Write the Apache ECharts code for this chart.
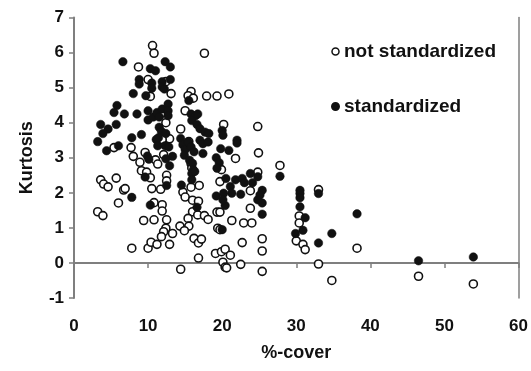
<!DOCTYPE html>
<html><head><meta charset="utf-8">
<script src="https://cdn.jsdelivr.net/npm/echarts@6/dist/echarts.min.js"></script>
<style>html,body{margin:0;padding:0;background:#fff}#c{width:531px;height:371px}</style>
</head><body><div id="c"></div>
<script>
var seriesNames = ["not standardized", "standardized"];
var xTicks = [0, 10, 20, 30, 40, 50, 60];
var yTicks = [-1, 0, 1, 2, 3, 4, 5, 6, 7];

var notStdX = [10.6,10.8,17.6,8.7,10.0,12.4,13.1,10.3,15.8,15.4,16.1,17.9,19.3,20.9,11.7,12.4,15.0,20.2,24.8,14.4,12.9,11.9,15.5,7.7,5.4,8.0,9.6,
11.0,11.3,8.9,9.1,9.8,10.3,12.1,12.5,12.5,15.8,15.9,21.8,24.9,27.8,24.8,19.9,19.7,3.6,4.0,4.6,5.7,6.7,6.9,10.5,11.7,14.7,15.0,15.8,16.9,23.8,
6.0,3.2,3.9,10.8,11.9,11.9,16.0,16.8,16.0,16.7,17.6,18.1,19.3,19.7,23.8,15.4,9.4,10.8,12.5,21.3,22.9,24.0,12.4,12.1,13.3,11.8,14.3,15.5,14.9,
19.4,19.7,7.8,10.0,10.4,11.2,12.9,16.2,16.8,17.2,22.7,25.4,25.4,19.1,19.9,20.4,21.1,16.8,20.1,20.4,20.6,22.5,14.4,25.4,30.0,30.4,30.4,30.9,
31.2,33.0,33.0,34.8,38.2,46.5,53.9];
var notStdY = [6.2,5.98,5.98,5.59,5.23,5.17,4.83,4.75,4.89,4.77,4.7,4.76,4.76,4.82,4.25,4.0,4.34,3.95,3.89,3.82,3.54,3.52,3.46,3.29,3.29,3.04,3.15,
2.94,2.82,2.87,2.63,2.59,2.43,3.09,2.5,2.34,2.83,2.71,2.98,3.14,2.78,2.59,2.66,2.32,2.37,2.25,2.17,2.42,2.08,2.12,2.12,2.1,2.02,1.88,2.16,2.21,2.06,
1.71,1.46,1.35,1.72,1.66,1.48,1.79,1.76,1.46,1.37,1.35,1.24,1.45,1.45,1.56,1.27,1.21,1.23,1.23,1.21,1.14,1.14,0.99,0.89,0.84,0.75,1.05,1.05,0.92,
0.99,0.95,0.42,0.42,0.59,0.53,0.53,0.7,0.57,0.68,0.58,0.69,0.34,0.27,0.32,0.39,0.22,0.14,0.02,-0.12,-0.14,-0.04,-0.18,-0.24,0.63,1.34,1.14,0.53,
0.38,2.09,-0.03,-0.5,0.42,-0.38,-0.6];

var stdX = [6.6,12.3,13.0,10.3,11.0,8.8,13.0,8.8,10.5,11.9,11.9,12.2,10.5,8.0,9.7,5.8,5.4,6.8,8.5,3.6,4.6,3.9,5.7,10.0,10.0,10.7,11.2,11.5,11.9,
12.7,12.7,12.7,11.5,11.8,12.4,11.4,11.1,11.3,12.3,12.8,13.3,12.4,12.9,12.5,3.2,4.4,6.0,7.8,9.1,9.9,10.1,9.6,7.8,10.3,14.4,14.7,15.0,15.4,15.8,
16.2,15.5,15.8,16.4,15.9,16.7,16.6,17.0,17.7,18.2,17.0,17.4,18.1,17.4,14.9,15.6,16.0,16.1,15.9,16.3,15.9,14.5,16.6,20.0,20.1,19.8,20.9,19.2,
19.6,19.3,20.5,22.0,22.0,21.8,22.7,23.0,23.8,24.1,24.8,19.2,20.2,21.1,21.3,20.4,22.5,20.1,20.0,24.8,25.4,25.1,25.4,25.4,27.8,30.5,30.5,30.5,
30.5,31.2,30.9,29.9,33.0,33.0,34.8,38.2,46.5,53.9];
var stdY = [5.74,5.74,5.59,5.54,5.48,5.23,5.23,5.1,5.13,5.17,5.02,4.96,4.98,4.83,4.77,4.49,4.29,4.25,4.25,3.95,3.82,3.69,3.95,4.34,4.08,4.16,4.29,4.16,4.39,
4.53,4.34,4.2,3.87,3.75,3.69,3.57,3.52,3.34,3.34,3.31,3.04,2.97,2.77,2.21,3.46,3.2,3.34,3.57,3.66,3.05,2.96,2.45,1.87,1.65,3.55,3.37,3.23,3.45,3.31,
3.17,4.63,4.25,4.2,4.06,4.25,3.95,3.83,3.73,3.69,3.5,3.4,3.45,3.12,3.07,2.93,2.84,2.65,2.55,2.61,2.37,2.22,1.59,3.78,3.64,3.26,3.21,3.0,
2.86,2.7,2.41,3.5,3.42,2.37,2.41,2.29,2.55,2.29,2.46,1.91,1.99,2.18,1.99,1.64,1.96,1.8,0.95,1.8,2.07,1.94,1.71,1.39,2.47,2.07,1.98,1.86,
1.6,1.29,0.93,0.84,1.98,0.57,0.84,1.4,0.06,0.17];

function pairs(xs, ys){ return xs.map(function(x,i){ return [x, ys[i]]; }); }

var FONT = "'Liberation Sans', Arial, sans-serif";
var axisCol = '#7f7f7f';
var chart = echarts.init(document.getElementById('c'), null, {renderer:'canvas'});
chart.setOption({
  animation: false,
  backgroundColor: '#fff',
  grid: {left: 74, right: 12, top: 17.5, bottom: 73, containLabel: false},
  legend: {
    orient: 'vertical', left: 326, top: 37, itemGap: 36, itemWidth: 7, itemHeight: 7,
    textStyle: {fontFamily: FONT, fontWeight: 'bold', fontSize: 19, color: '#111'},
    data: [
      {name: seriesNames[0], icon: 'circle', itemStyle: {color: '#fff', borderColor: '#111', borderWidth: 1.5}},
      {name: seriesNames[1], icon: 'circle', itemStyle: {color: '#111'}}
    ]
  },
  xAxis: {
    type: 'value', min: xTicks[0], max: xTicks[xTicks.length-1], interval: 10,
    name: '%-cover', nameLocation: 'middle', nameGap: 46,
    nameTextStyle: {fontFamily: FONT, fontWeight: 'bold', fontSize: 18, color: '#111'},
    axisLine: {lineStyle: {color: axisCol, width: 2}},
    axisTick: {show: true, length: 5, lineStyle: {color: axisCol, width: 1.5}},
    axisLabel: {fontFamily: FONT, fontWeight: 'bold', fontSize: 17, color: '#111', margin: 20},
    splitLine: {show: false}
  },
  yAxis: [{
    type: 'value', min: yTicks[0], max: yTicks[yTicks.length-1], interval: 1,
    name: 'Kurtosis', nameLocation: 'middle', nameGap: 38, nameRotate: 90,
    nameTextStyle: {fontFamily: FONT, fontWeight: 'bold', fontSize: 18, color: '#111'},
    axisLine: {show: true, lineStyle: {color: axisCol, width: 2}},
    axisTick: {show: true, length: 5, lineStyle: {color: axisCol, width: 1.5}},
    axisLabel: {fontFamily: FONT, fontWeight: 'bold', fontSize: 17, color: '#111', margin: 10},
    splitLine: {show: false}
  }, {
    type: 'value', min: yTicks[0], max: yTicks[yTicks.length-1], interval: 1, position: 'right',
    axisLine: {show: true, lineStyle: {color: axisCol, width: 1.5}},
    axisTick: {show: false}, axisLabel: {show: false}, splitLine: {show: false}
  }],
  series: [
    {name: seriesNames[0], type: 'scatter', symbol: 'circle', symbolSize: 8,
     itemStyle: {color: '#fff', borderColor: '#111', borderWidth: 1.6, opacity: 1},
     data: pairs(notStdX, notStdY)},
    {name: seriesNames[1], type: 'scatter', symbol: 'circle', symbolSize: 8.5,
     itemStyle: {color: '#111', borderColor: '#111', borderWidth: 0.5, opacity: 1},
     data: pairs(stdX, stdY)}
  ]
});
</script></body></html>
